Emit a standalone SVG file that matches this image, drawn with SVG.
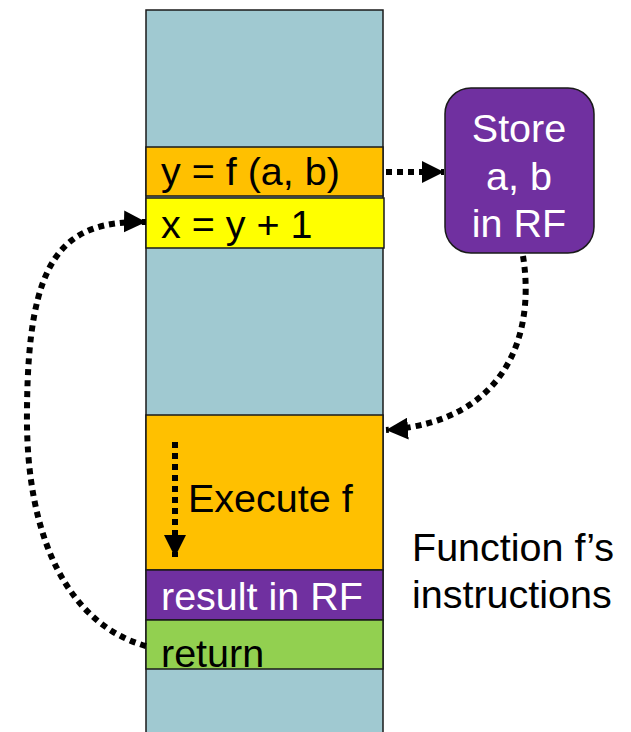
<svg xmlns="http://www.w3.org/2000/svg" width="631" height="732" viewBox="0 0 631 732">
<style>
.box{stroke:#1a1a1a;stroke-width:1.5}
.t{font-family:"Liberation Sans",Arial,sans-serif;font-size:39.5px}
.w{fill:#ffffff}
.k{fill:#000000}
.c{fill:none;stroke:#000;stroke-width:6;stroke-dasharray:6 5}
</style>
<defs>
<marker id="ah" markerUnits="userSpaceOnUse" markerWidth="24" markerHeight="22" refX="22" refY="11" orient="auto">
<path d="M0,0 L22,11 L0,22 Z" fill="#000"/>
</marker>
</defs>
<g id="column"><rect class="box" x="146" y="10" width="237" height="730" fill="#A0C9D1"/></g>
<g id="call"><rect class="box" x="146" y="147" width="237" height="49" fill="#FFC000"/><text class="t k" x="161" y="185">y = f (a, b)</text></g>
<g id="assign"><rect class="box" x="146" y="198" width="238" height="50" fill="#FFFF00"/><text class="t k" x="161" y="238">x = y + 1</text></g>
<g id="store"><rect class="box" x="445" y="88" width="149" height="165" rx="26" fill="#7030A0"/><text class="t w" text-anchor="middle" x="519" y="142">Store</text><text class="t w" text-anchor="middle" x="519" y="190">a, b</text><text class="t w" text-anchor="middle" x="519" y="237">in RF</text></g>
<g id="execute"><rect class="box" x="146" y="415" width="237" height="155" fill="#FFC000"/><text class="t k" x="188" y="512">Execute f</text></g>
<g id="result"><rect class="box" x="146" y="570" width="237" height="50" fill="#7030A0"/><text class="t w" x="161" y="610">result in RF</text></g>
<g id="return"><rect class="box" x="146" y="620" width="237" height="49" fill="#92D050"/><text class="t k" x="161" y="667">return</text></g>
<g id="label"><text class="t k" x="412" y="561">Function f’s</text><text class="t k" x="412" y="608">instructions</text></g>
<g id="connectors">
<path class="c" d="M386,172 L444,172" marker-end="url(#ah)"/>
<path class="c" d="M523,256 C535,330 510,422 386,430" marker-end="url(#ah)"/>
<path class="c" d="M146,646 C70,625 25,540 27,410 C28,260 60,220 146,222" marker-end="url(#ah)"/>
<path class="c" d="M175,442 L175,557" marker-end="url(#ah)"/>
</g>
</svg>
